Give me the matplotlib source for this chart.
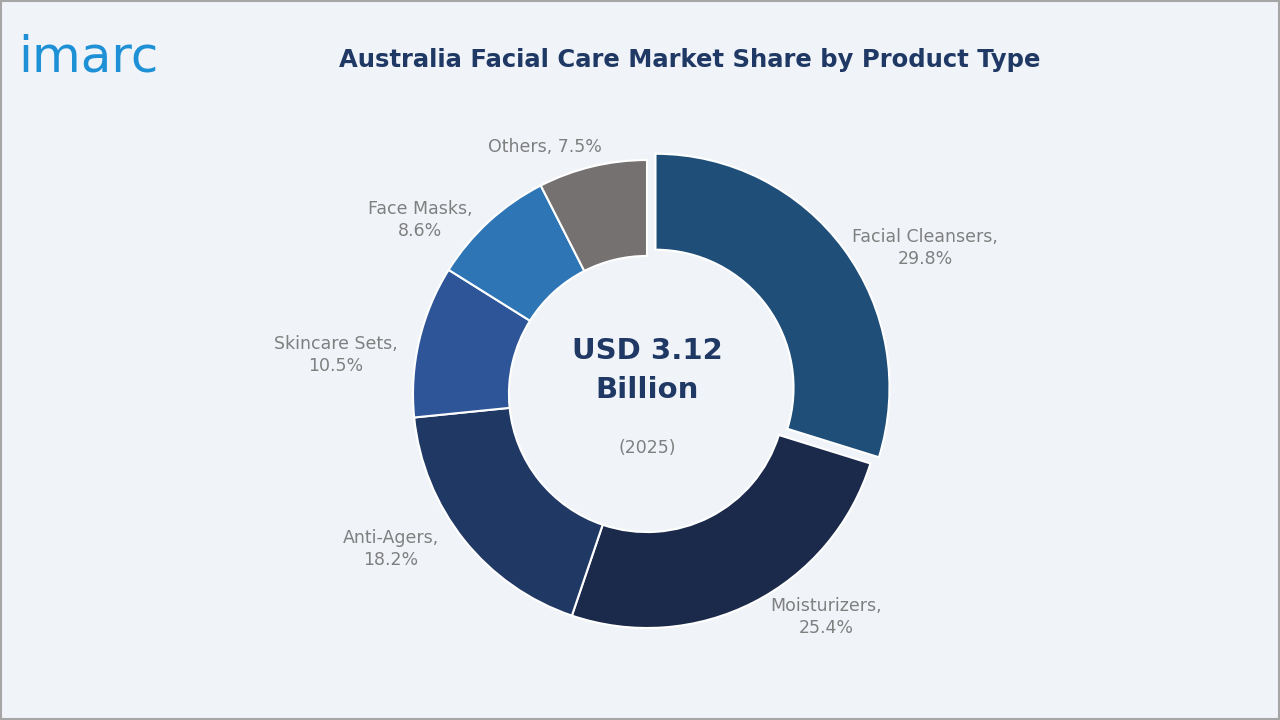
import matplotlib
matplotlib.use("Agg")
import matplotlib.pyplot as plt
from matplotlib.patches import Rectangle

categories = ["Facial Cleansers", "Moisturizers", "Anti-Agers", "Skincare Sets", "Face Masks", "Others"]
shares = [29.8, 25.4, 18.2, 10.5, 8.6, 7.5]
colors = ["#1f4e79", "#1b2a4a", "#203864", "#2e5597", "#2e75b6", "#767171"]
explode = [0.045, 0, 0, 0, 0, 0]
# label text positions in pixels (x, y from top)
label_px = [(925, 248), (826, 617), (391, 549), (336, 355), (420, 220), (545, 147)]
label_text = ["Facial Cleansers,\n29.8%", "Moisturizers,\n25.4%", "Anti-Agers,\n18.2%",
              "Skincare Sets,\n10.5%", "Face Masks,\n8.6%", "Others, 7.5%"]

W, H = 1280, 720
fig = plt.figure(figsize=(12.8, 7.2), dpi=100)
fig.patch.set_facecolor("#f0f4f9")
fig.add_artist(Rectangle((0.001, 0.001), 0.998, 0.997, transform=fig.transFigure,
                         fill=False, edgecolor="#a6a6a6", linewidth=1.5))

cx, cy, R = 647, 394, 234
half = 300
ax = fig.add_axes([(cx - half) / W, (H - cy - half) / H, 2 * half / W, 2 * half / H])
scale = half / R

ax.pie(shares, colors=colors, startangle=90, counterclock=False, explode=explode,
       radius=1.0, wedgeprops=dict(width=0.41, edgecolor="white", linewidth=1.5))
ax.set_xlim(-scale, scale)
ax.set_ylim(-scale, scale)
ax.set_aspect("equal")
ax.axis("off")

for (px, py), t in zip(label_px, label_text):
    ax.text((px - cx) / R, (cy - py) / R, t, ha="center", va="center",
            fontsize=12.5, color="#7f7f7f", linespacing=1.35)

ax.text(0, 0.1, "USD 3.12\nBillion", ha="center", va="center", fontsize=21,
        fontweight="bold", color="#1f3864", linespacing=1.5)
ax.text(0, -0.23, "(2025)", ha="center", va="center", fontsize=12.5, color="#7f7f7f")

fig.text(690 / W, 1 - 60 / H, "Australia Facial Care Market Share by Product Type",
         ha="center", va="center", fontsize=17.5, fontweight="bold", color="#1f3864")
fig.text(18 / W, 1 - 58 / H, "imarc", ha="left", va="center", fontsize=36,
         color="#1e90d6")

fig.savefig("out.png", dpi=100, facecolor=fig.get_facecolor())
